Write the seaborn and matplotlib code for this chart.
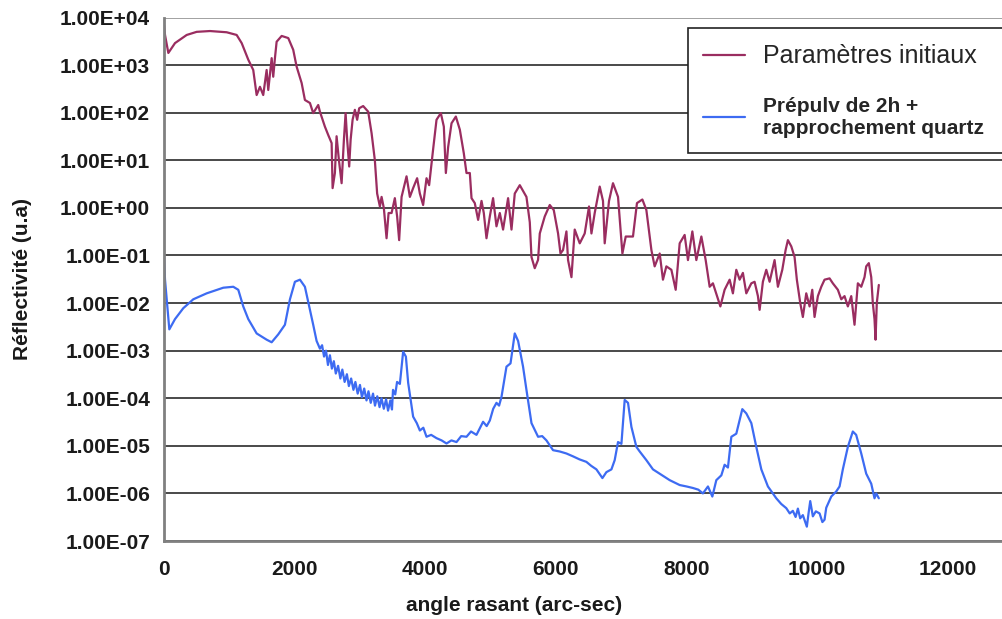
import numpy as np
import pandas as pd
import seaborn as sns
import matplotlib.pyplot as plt
from matplotlib.ticker import FuncFormatter, FixedLocator, NullLocator

# "Paramètres initiaux" (angle in arc-sec, reflectivity)
init_x = [0, 15, 66, 168, 347, 500, 704, 959, 1112, 1189,
          1290, 1366, 1418, 1469, 1519, 1571, 1596, 1648, 1672, 1698,
          1724, 1801, 1902, 1978, 2030, 2107, 2157, 2234, 2284, 2361,
          2387, 2463, 2514, 2566, 2581, 2616, 2642, 2678, 2719, 2754,
          2780, 2804, 2835, 2857, 2887, 2922, 2957, 2988, 3049, 3126,
          3178, 3228, 3263, 3305, 3331, 3366, 3407, 3438, 3484, 3534,
          3569, 3600, 3637, 3713, 3764, 3814, 3875, 3917, 3967, 4019,
          4059, 4120, 4172, 4238, 4284, 4315, 4350, 4402, 4468, 4529,
          4590, 4631, 4682, 4708, 4758, 4809, 4861, 4896, 4937, 4988,
          5038, 5090, 5141, 5191, 5268, 5320, 5370, 5447, 5549, 5600,
          5626, 5676, 5727, 5753, 5829, 5906, 5967, 6033, 6070, 6109,
          6161, 6186, 6238, 6288, 6365, 6441, 6507, 6544, 6594, 6671,
          6721, 6747, 6813, 6874, 6951, 7018, 7069, 7180, 7241, 7324,
          7385, 7462, 7512, 7589, 7639, 7691, 7768, 7834, 7895, 7971,
          8022, 8089, 8150, 8227, 8293, 8354, 8404, 8460, 8518, 8583,
          8660, 8710, 8762, 8813, 8863, 8915, 8992, 9042, 9093, 9119,
          9169, 9221, 9272, 9348, 9399, 9466, 9517, 9552, 9604, 9654,
          9689, 9741, 9781, 9833, 9884, 9925, 9960, 10011, 10063, 10113,
          10190, 10240, 10317, 10369, 10419, 10470, 10522, 10572, 10623, 10675,
          10725, 10751, 10791, 10828, 10852, 10878, 10894, 10913, 10944]
init_y = [6.9e3, 4.3e3, 1.8e3, 2.9e3, 4.3e3, 5.0e3, 5.2e3, 4.9e3, 4.3e3, 2.9e3,
          1.3e3, 790, 235, 350, 235, 790, 300, 1.4e3, 570, 1.4e3,
          3.1e3, 4.1e3, 3.7e3, 2.1e3, 930, 420, 185, 160, 98, 145,
          105, 51, 34, 23, 2.6, 5.4, 32, 10, 3.3, 27,
          98, 27, 7.4, 27, 71, 115, 71, 124, 138, 105,
          37, 10, 2.0, 1.07, 1.7, 0.98, 0.23, 0.78, 0.78, 1.6,
          0.66, 0.21, 1.7, 4.6, 1.7, 2.6, 4.2, 2.0, 1.15, 4.2,
          3.0, 17, 71, 98, 51, 5.4, 19, 60, 83, 44,
          14, 5.4, 5.4, 1.6, 1.26, 0.56, 1.4, 0.78, 0.23, 0.66,
          1.6, 0.41, 0.78, 0.35, 1.6, 0.35, 2.0, 3.0, 1.7, 0.5,
          0.093, 0.054, 0.081, 0.29, 0.66, 1.15, 0.9, 0.29, 0.11, 0.13,
          0.32, 0.08, 0.035, 0.35, 0.18, 0.29, 1.07, 0.29, 0.78, 2.8,
          1.4, 0.18, 1.4, 3.3, 1.7, 0.11, 0.25, 0.25, 1.26, 1.5,
          0.9, 0.13, 0.059, 0.11, 0.031, 0.059, 0.05, 0.019, 0.18, 0.27,
          0.08, 0.32, 0.08, 0.25, 0.08, 0.022, 0.026, 0.015, 0.0085, 0.019,
          0.031, 0.016, 0.05, 0.031, 0.043, 0.016, 0.026, 0.028, 0.014, 0.0072,
          0.028, 0.05, 0.028, 0.08, 0.022, 0.05, 0.13, 0.21, 0.155, 0.093,
          0.031, 0.01, 0.0051, 0.016, 0.0085, 0.019, 0.0051, 0.014, 0.022, 0.031,
          0.033, 0.026, 0.019, 0.012, 0.014, 0.0085, 0.014, 0.0035, 0.026, 0.022,
          0.035, 0.059, 0.069, 0.035, 0.01, 0.0046, 0.0017, 0.01, 0.024]

# "Prépulv de 2h + rapprochement quartz"
prep_x = [0, 15, 50, 81, 168, 295, 448, 653, 907, 1060,
          1137, 1213, 1290, 1418, 1571, 1648, 1749, 1851, 1928, 2004,
          2081, 2157, 2223, 2284, 2336, 2387, 2420, 2450, 2480, 2510,
          2540, 2570, 2600, 2630, 2665, 2700, 2730, 2765, 2800, 2830,
          2865, 2900, 2930, 2965, 3000, 3030, 3065, 3100, 3130, 3165,
          3200, 3230, 3265, 3300, 3330, 3365, 3400, 3430, 3465, 3490,
          3506, 3540, 3568, 3611, 3661, 3703, 3738, 3814, 3870, 3917,
          3970, 4019, 4090, 4172, 4250, 4325, 4400, 4478, 4550, 4631,
          4700, 4784, 4885, 4940, 4988, 5040, 5090, 5130, 5167, 5243,
          5305, 5370, 5421, 5497, 5549, 5626, 5727, 5790, 5855, 5956,
          6059, 6161, 6263, 6360, 6467, 6540, 6620, 6712, 6773, 6850,
          6900, 6951, 7003, 7053, 7104, 7156, 7232, 7283, 7385, 7486,
          7589, 7742, 7895, 8000, 8098, 8180, 8251, 8328, 8395, 8456,
          8533, 8583, 8634, 8686, 8762, 8854, 8915, 8992, 9068, 9145,
          9246, 9374, 9450, 9527, 9580, 9628, 9670, 9705, 9740, 9781,
          9842, 9870, 9894, 9934, 9980, 10037, 10080, 10113, 10139, 10216,
          10292, 10343, 10393, 10470, 10546, 10597, 10675, 10751, 10828, 10878,
          10904, 10944]
prep_y = [0.09, 0.031, 0.0085, 0.0028, 0.0046, 0.0078, 0.012, 0.016, 0.021, 0.022,
          0.019, 0.0085, 0.0046, 0.0023, 0.0017, 0.0015, 0.0022, 0.0035, 0.012, 0.028,
          0.031, 0.022, 0.0085, 0.0035, 0.0016, 0.0011, 1.3e-3, 7.5e-4, 1.0e-3, 5.0e-4,
          8.0e-4, 4.2e-4, 6.0e-4, 3.3e-4, 4.8e-4, 2.6e-4, 4.0e-4, 2.2e-4, 3.2e-4, 1.8e-4,
          2.6e-4, 1.5e-4, 2.2e-4, 1.25e-4, 1.9e-4, 1.05e-4, 1.6e-4, 9.0e-5, 1.4e-4, 8.0e-5,
          1.25e-4, 7.0e-5, 1.1e-4, 6.5e-5, 1.0e-4, 6.0e-5, 9.5e-5, 5.5e-5, 9.0e-5, 5.8e-5,
          1.5e-4, 1.2e-4, 2.2e-4, 2.0e-4, 9.5e-4, 7.5e-4, 2.1e-4, 4.1e-5, 3.0e-5, 2.1e-5,
          2.4e-5, 1.55e-5, 1.7e-5, 1.45e-5, 1.3e-5, 1.12e-5, 1.3e-5, 1.2e-5, 1.6e-5, 1.55e-5,
          2.0e-5, 1.7e-5, 3.2e-5, 2.6e-5, 3.4e-5, 6.0e-5, 8.0e-5, 7.0e-5, 1.07e-4, 4.6e-4,
          5.4e-4, 2.3e-3, 1.6e-3, 4.6e-4, 1.5e-4, 3.0e-5, 1.55e-5, 1.6e-5, 1.3e-5, 8.1e-6,
          7.6e-6, 6.9e-6, 6.0e-6, 5.2e-6, 4.6e-6, 3.8e-6, 3.2e-6, 2.1e-6, 2.8e-6, 3.2e-6,
          5.0e-6, 1.2e-5, 1.1e-5, 9.2e-5, 8.0e-5, 2.5e-5, 9.5e-6, 7.6e-6, 5.0e-6, 3.2e-6,
          2.6e-6, 1.9e-6, 1.5e-6, 1.4e-6, 1.3e-6, 1.2e-6, 1.0e-6, 1.4e-6, 8.6e-7, 1.9e-6,
          2.4e-6, 4.0e-6, 3.5e-6, 1.55e-5, 1.8e-5, 5.9e-5, 4.8e-5, 3.0e-5, 9.5e-6, 3.2e-6,
          1.4e-6, 7.9e-7, 6.0e-7, 4.9e-7, 3.8e-7, 4.3e-7, 3.2e-7, 4.8e-7, 3.0e-7, 3.5e-7,
          2.0e-7, 4.0e-7, 6.9e-7, 3.3e-7, 4.2e-7, 3.8e-7, 2.5e-7, 2.8e-7, 5.0e-7, 8.6e-7,
          1.1e-6, 1.4e-6, 3.2e-6, 9.5e-6, 2.0e-5, 1.7e-5, 6.9e-6, 2.6e-6, 1.6e-6, 7.9e-7,
          1.0e-6, 7.9e-7]

x_ticks = [0, 2000, 4000, 6000, 8000, 10000, 12000]
y_ticks = [1e-7, 1e-6, 1e-5, 1e-4, 1e-3, 1e-2, 1e-1, 1e0, 1e1, 1e2, 1e3, 1e4]

label_init = "Paramètres initiaux"
label_prep = "Prépulv de 2h +\nrapprochement quartz"

sns.set_style("white")
plt.rcParams['font.family'] = ['Liberation Sans', 'DejaVu Sans']

fig = plt.figure(figsize=(10.02, 6.19), dpi=100)
ax = fig.add_axes([0.1637, 0.126, 0.8363, 0.8457])

sns.lineplot(x=init_x, y=init_y, ax=ax, color="#9A2D60", lw=1.6,
             estimator=None, sort=False, label=label_init)
sns.lineplot(x=prep_x, y=prep_y, ax=ax, color="#3D6BF2", lw=1.6,
             estimator=None, sort=False, label=label_prep)

ax.set_yscale("log")
ax.set_ylim(1e-7, 1e4)
ax.set_xlim(0, 12830)

ax.yaxis.set_major_locator(FixedLocator(y_ticks))
ax.yaxis.set_minor_locator(NullLocator())
ax.yaxis.set_major_formatter(FuncFormatter(lambda v, p: f"{v:.2E}"))
ax.xaxis.set_major_locator(FixedLocator(x_ticks))

ax.yaxis.grid(True, color="#3a3a3a", lw=1.3)
ax.xaxis.grid(False)
ax.set_axisbelow(True)
# the top gridline is drawn lighter in the original
ax.get_ygridlines()[-1].set_color("#9a9a9a")

for s in ["top", "right"]:
    ax.spines[s].set_visible(False)
for s in ["left", "bottom"]:
    ax.spines[s].set_color("#808080")
    ax.spines[s].set_linewidth(2)

ax.tick_params(axis="both", which="major", direction="out", length=6, width=1.5,
               color="#808080", labelsize=15, labelcolor="#1a1a1a")
for t in ax.get_xticklabels() + ax.get_yticklabels():
    t.set_fontweight("bold")
ax.tick_params(axis="y", pad=4)
ax.tick_params(axis="x", pad=8)

ax.set_xlabel("angle rasant (arc-sec)", fontsize=15, fontweight="bold", color="#1a1a1a")
ax.set_ylabel("Réflectivité (u.a)", fontsize=15, fontweight="bold", color="#1a1a1a")
ax.xaxis.set_label_coords(0.418, -0.105)
ax.yaxis.set_label_coords(-0.158, 0.5)

# legend box runs past the right edge of the picture, as in the original
leg = ax.legend(loc="upper left", bbox_to_anchor=(0.625, 0.70, 0.40, 0.28),
                mode="expand", borderaxespad=0,
                frameon=True, fancybox=False, edgecolor="#222222", framealpha=1,
                handlelength=2.0, handletextpad=0.85, labelspacing=1.4,
                borderpad=0.75, fontsize=15)
leg.get_frame().set_linewidth(1.2)
texts = leg.get_texts()
texts[0].set_fontsize(18)
texts[1].set_fontweight("bold")

fig.savefig("out.png", dpi=100, facecolor="white")
